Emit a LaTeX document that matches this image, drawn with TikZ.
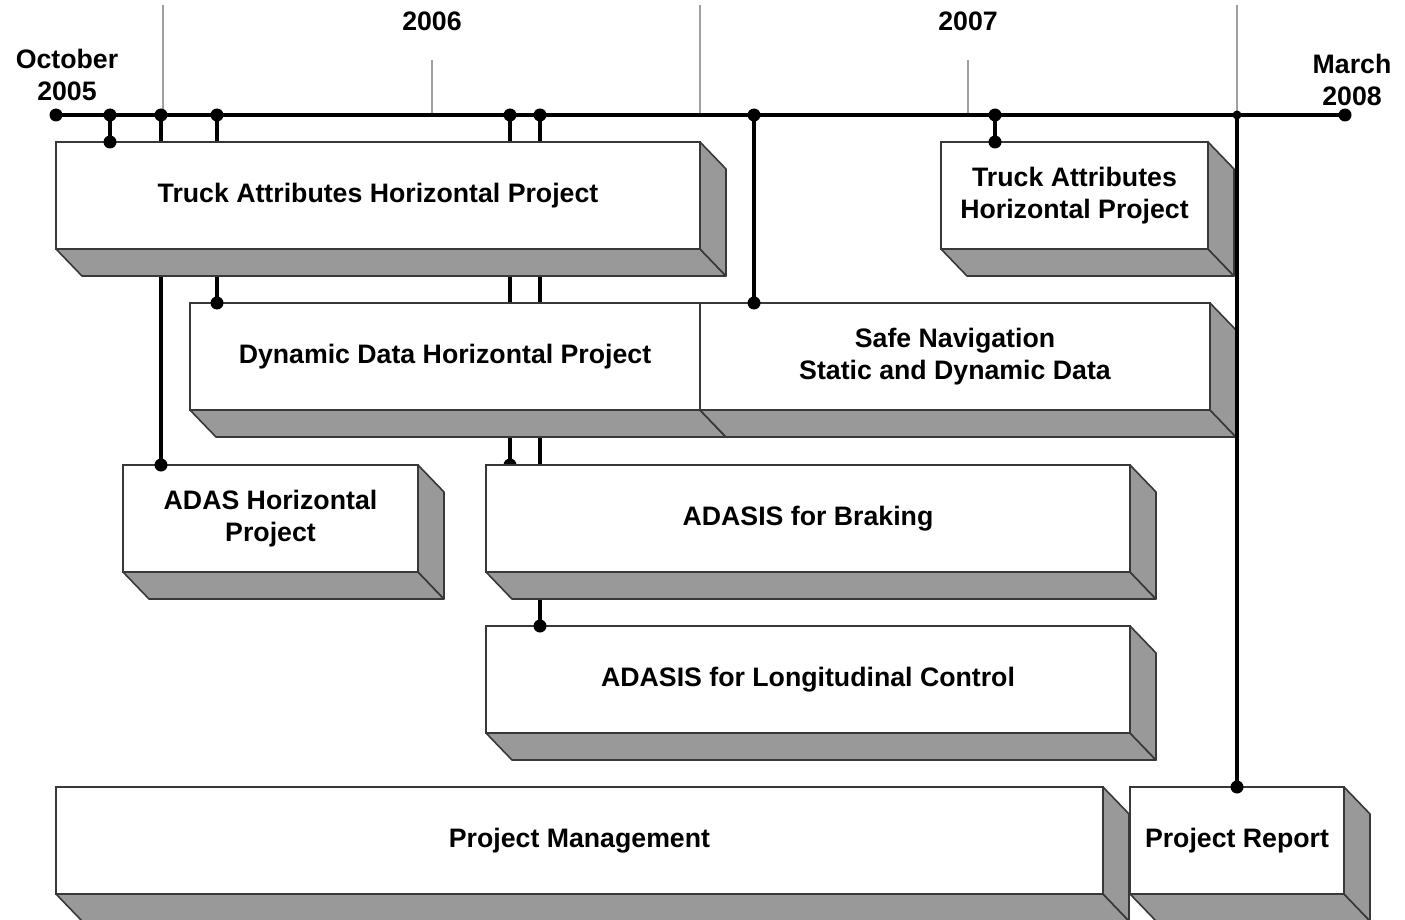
\documentclass[tikz,border=0pt]{standalone}
\usepackage{fontspec}
\setmainfont{Liberation Sans}
\definecolor{boxline}{HTML}{383838}
\definecolor{sidegray}{HTML}{999999}
\definecolor{tickgray}{HTML}{A0A0A0}
\tikzset{
  front/.style={draw=boxline, fill=white, line width=1.6pt, inner sep=0pt, outer sep=0pt,
    align=center, font=\bfseries\fontsize{26.7}{32}\selectfont},
  side/.style={draw=boxline, fill=sidegray, line width=1.6pt, line join=round},
  conn/.style={line width=3.5pt, black},
  timeline/.style={line width=4pt, black},
  yeartick/.style={line width=2.5pt, tickgray},
  lbl/.style={align=center, inner sep=0pt, font=\bfseries\fontsize{26.7}{32}\selectfont},
}
\newcommand\prjbox[6]{%
  \node[front, anchor=north west, minimum width=#4pt, minimum height=#5pt] (#1) at (#2,#3) {#6};
  \filldraw[side] (#1.south west) -- (#1.south east) -- ([shift={(26,27)}]#1.south east)
     -- ([shift={(26,27)}]#1.south west) -- cycle;
  \filldraw[side] (#1.north east) -- ([shift={(26,27)}]#1.north east)
     -- ([shift={(26,27)}]#1.south east) -- (#1.south east) -- cycle;
}
\newcommand\tdot[1]{\fill (#1) circle (6.5pt);}
\begin{document}
\begin{tikzpicture}[x=1pt,y=-1pt]
\useasboundingbox (0,0) rectangle (1405,920);
\clip (0,0) rectangle (1405,920);
\fill[white] (0,0) rectangle (1405,920);
% timeline points
\coordinate (tstart) at (56,115);
\coordinate (tend) at (1345,115);
\foreach \x in {110,161,217,510,540,754,995,1237} {\coordinate (t\x) at (\x,115);}
\coordinate (g163) at (163,5);   \coordinate (g163b) at (163,115);
\coordinate (g432) at (432,60);  \coordinate (g432b) at (432,115);
\coordinate (g700) at (700,5);   \coordinate (g700b) at (700,115);
\coordinate (g968) at (968,60);  \coordinate (g968b) at (968,115);
\coordinate (g1237) at (1237,5); \coordinate (g1237b) at (1237,115);
% year ticks
\foreach \g in {163,432,700,968,1237} {\draw[yeartick] (g\g) -- (g\g b);}
% labels
\node[lbl] (y2006) at (432,21) {2006};
\node[lbl] (y2007) at (968,21) {2007};
\node[lbl] (oct) at (67,75) {October\\2005};
\node[lbl] (mar) at (1352,80) {March\\2008};
% timeline
\draw[timeline] (tstart) -- (tend);
% connectors behind boxes
\coordinate (c161) at (161,465);
\coordinate (c217) at (217,303);
\coordinate (c510) at (510,465);
\coordinate (c540) at (540,626);
\coordinate (c110) at (110,142);
\coordinate (c754) at (754,303);
\coordinate (c995) at (995,142);
\draw[conn] (t161) -- (c161);
\draw[conn] (t217) -- (c217);
\draw[conn] (t510) -- (c510);
\draw[conn] (t540) -- (c540);
\draw[conn] (t110) -- (c110);
\draw[conn] (t754) -- (c754);
\draw[conn] (t995) -- (c995);
\tdot{c510}
% boxes
\prjbox{tah}{56}{142}{644}{107}{Truck Attributes Horizontal Project}
\prjbox{tah2}{941}{142}{267}{107}{Truck Attributes\\Horizontal Project}
\prjbox{ddh}{190}{303}{510}{107}{Dynamic Data Horizontal Project}
\prjbox{snav}{700}{303}{510}{107}{Safe Navigation\\Static and Dynamic Data}
\prjbox{adas}{123}{465}{295}{107}{ADAS Horizontal\\Project}
\prjbox{brake}{486}{465}{644}{107}{ADASIS for Braking}
\prjbox{longc}{486}{626}{644}{107}{ADASIS for Longitudinal Control}
\prjbox{pm}{56}{787}{1047}{107}{Project Management}
\prjbox{pr}{1130}{787}{214}{107}{Project Report}
% connector to project report
\draw[conn] (t1237) -- (t1237 |- pr.north);
% dots
\foreach \p in {tstart,tend,t110,t161,t217,t510,t540,t754,t995,c110,c161,c217,c540,c754,c995} {\tdot{\p}}
\fill (t1237) circle (4.5pt);
\fill (t1237 |- pr.north) circle (6.5pt);
\end{tikzpicture}
\end{document}
